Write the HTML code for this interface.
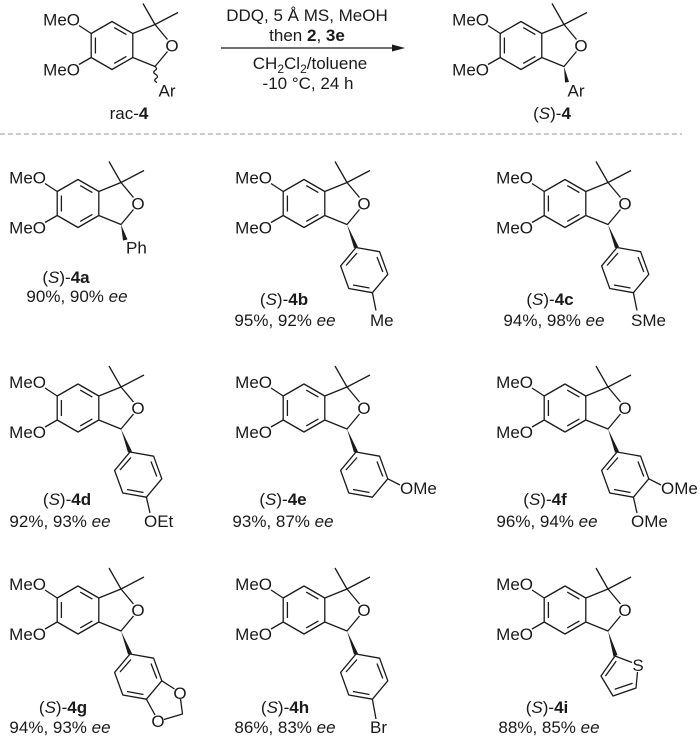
<!DOCTYPE html>
<html><head><meta charset="utf-8">
<style>
html,body{margin:0;padding:0;background:#fff;}
svg{display:block;}
text{font-family:"Liberation Sans",Arial,sans-serif;font-size:17px;fill:#1a1a1a;}
.b{fill:none;stroke:#1a1a1a;stroke-width:1.3;stroke-linejoin:round;}
.w{fill:#1a1a1a;stroke:none;}
.m{text-anchor:middle;}
.e{text-anchor:end;}
</style></head>
<body>
<svg width="700" height="737" viewBox="0 0 700 737" xmlns="http://www.w3.org/2000/svg">
<defs>
<path id="core" class="b" d="M-20.8,-12 L0,-24 L20.8,-12 L20.8,12 L0,24 L-20.8,12 Z M-16.6,-8 L-16.6,8 M2.2,-17.9 L14.4,-10.9 M2.2,17.9 L14.4,10.9 M20.8,-12 L43,-21 L55.5,-6 M20.8,12 L43,21 L55.5,6 M43,-21 L31,-42 M43,-21 L66,-33 M-20.8,-12 L-33,-20 M-20.8,12 L-33,19"/>
<path id="ar" class="b" d="M52,44 L75.6,48.2 L83.8,70.8 L68.4,89.2 L44.8,85 L36.6,62.4 Z M42,62 L53,49.5 M73,53.5 L78.8,68.5 M65.5,84.5 L49,81.5"/>
<polygon id="wd" class="w" points="43,21 50,44.5 54,43.5"/>
</defs>

<g transform="translate(112,45.5)">
<use href="#core"/>
<text x="-32" y="-20" class="e">MeO</text><text x="-32" y="30" class="e">MeO</text><text x="60" y="6" class="m">O</text>
<path class="b" d="M43,21 q3,2 0,4 q-3,2 1,4 q3,2 0,4 q-3,2 1,4"/>
<text x="55" y="51" class="m">Ar</text>
</g>
<text x="129" y="119" class="m">rac-<tspan font-weight="bold">4</tspan></text>

<text x="307" y="21" class="m">DDQ, 5 Å MS, MeOH</text>
<text x="307" y="41" class="m">then <tspan font-weight="bold">2</tspan>, <tspan font-weight="bold">3e</tspan></text>
<line x1="221" y1="48" x2="394" y2="48" stroke="#1a1a1a" stroke-width="1.3"/>
<polygon points="392,44.5 405,48 392,51.5" fill="#1a1a1a"/>
<text x="310" y="69" class="m">CH<tspan font-size="12" dy="4">2</tspan><tspan dy="-4">Cl</tspan><tspan font-size="12" dy="4">2</tspan><tspan dy="-4">/toluene</tspan></text>
<text x="308" y="89" class="m">-10 °C, 24 h</text>

<g transform="translate(521,45.5)">
<use href="#core"/>
<text x="-32" y="-20" class="e">MeO</text><text x="-32" y="30" class="e">MeO</text><text x="60" y="6" class="m">O</text>
<polygon class="w" points="43,21 44,37 48,36.5"/>
<text x="55" y="51" class="m">Ar</text>
</g>
<text x="552" y="119" class="m">(<tspan font-style="italic">S</tspan>)-<tspan font-weight="bold">4</tspan></text>

<line x1="0" y1="134" x2="682" y2="134" stroke="#999" stroke-width="1" stroke-dasharray="5,3"/>

<g transform="translate(78,203.5)">
<use href="#core"/>
<text x="-32" y="-20" class="e">MeO</text><text x="-32" y="30" class="e">MeO</text><text x="60" y="6" class="m">O</text>
<polygon class="w" points="43,21 45,37 49.5,36"/>
<text x="48" y="50">Ph</text>
</g>
<text x="66" y="283" class="m">(<tspan font-style="italic">S</tspan>)-<tspan font-weight="bold">4a</tspan></text>
<text x="77" y="302" class="m">90%, 90% <tspan font-style="italic">ee</tspan></text>

<g transform="translate(304,203.5)">
<use href="#core"/><use href="#ar"/><use href="#wd"/>
<text x="-32" y="-20" class="e">MeO</text><text x="-32" y="30" class="e">MeO</text><text x="60" y="6" class="m">O</text>
<path class="b" d="M68.4,89.2 L72,107"/>
<text x="66" y="122.5">Me</text>
</g>
<text x="284" y="305" class="m">(<tspan font-style="italic">S</tspan>)-<tspan font-weight="bold">4b</tspan></text>
<text x="285" y="326" class="m">95%, 92% <tspan font-style="italic">ee</tspan></text>

<g transform="translate(565,203.5)">
<use href="#core"/><use href="#ar"/><use href="#wd"/>
<text x="-32" y="-20" class="e">MeO</text><text x="-32" y="30" class="e">MeO</text><text x="60" y="6" class="m">O</text>
<path class="b" d="M68.4,89.2 L72,107"/>
<text x="66" y="122.5">SMe</text>
</g>
<text x="550" y="305" class="m">(<tspan font-style="italic">S</tspan>)-<tspan font-weight="bold">4c</tspan></text>
<text x="554" y="326" class="m">94%, 98% <tspan font-style="italic">ee</tspan></text>

<g transform="translate(78,408)">
<use href="#core"/><use href="#ar"/><use href="#wd"/>
<text x="-32" y="-20" class="e">MeO</text><text x="-32" y="30" class="e">MeO</text><text x="60" y="6" class="m">O</text>
<path class="b" d="M68.4,89.2 L72,105"/>
<text x="66" y="119">OEt</text>
</g>
<text x="67" y="505" class="m">(<tspan font-style="italic">S</tspan>)-<tspan font-weight="bold">4d</tspan></text>
<text x="60" y="527" class="m">92%, 93% <tspan font-style="italic">ee</tspan></text>

<g transform="translate(304,408)">
<use href="#core"/><use href="#ar"/><use href="#wd"/>
<text x="-32" y="-20" class="e">MeO</text><text x="-32" y="30" class="e">MeO</text><text x="60" y="6" class="m">O</text>
<path class="b" d="M83.8,70.8 L96,77"/>
<text x="96" y="86">OMe</text>
</g>
<text x="283" y="505" class="m">(<tspan font-style="italic">S</tspan>)-<tspan font-weight="bold">4e</tspan></text>
<text x="283" y="527" class="m">93%, 87% <tspan font-style="italic">ee</tspan></text>

<g transform="translate(565,408)">
<use href="#core"/><use href="#ar"/><use href="#wd"/>
<text x="-32" y="-20" class="e">MeO</text><text x="-32" y="30" class="e">MeO</text><text x="60" y="6" class="m">O</text>
<path class="b" d="M83.8,70.8 L96,77 M68.4,89.2 L72,105"/>
<text x="96" y="86">OMe</text>
<text x="66" y="119">OMe</text>
</g>
<text x="545" y="505" class="m">(<tspan font-style="italic">S</tspan>)-<tspan font-weight="bold">4f</tspan></text>
<text x="547" y="527" class="m">96%, 94% <tspan font-style="italic">ee</tspan></text>

<g transform="translate(78,610)">
<use href="#core"/><use href="#ar"/><use href="#wd"/>
<text x="-32" y="-20" class="e">MeO</text><text x="-32" y="30" class="e">MeO</text><text x="60" y="6" class="m">O</text>
<path class="b" d="M83.8,70.8 L96.5,79 M102.5,89 L104.5,104 L86,109.5 M68.4,89.2 L77,105"/>
<text x="102" y="89" class="m">O</text>
<text x="80" y="117" class="m">O</text>
</g>
<text x="63" y="713" class="m">(<tspan font-style="italic">S</tspan>)-<tspan font-weight="bold">4g</tspan></text>
<text x="60" y="733" class="m">94%, 93% <tspan font-style="italic">ee</tspan></text>

<g transform="translate(304,610)">
<use href="#core"/><use href="#ar"/><use href="#wd"/>
<text x="-32" y="-20" class="e">MeO</text><text x="-32" y="30" class="e">MeO</text><text x="60" y="6" class="m">O</text>
<path class="b" d="M68.4,89.2 L72,109"/>
<text x="66" y="123">Br</text>
</g>
<text x="285" y="713" class="m">(<tspan font-style="italic">S</tspan>)-<tspan font-weight="bold">4h</tspan></text>
<text x="285" y="733" class="m">86%, 83% <tspan font-style="italic">ee</tspan></text>

<g transform="translate(565,610)">
<use href="#core"/>
<text x="-32" y="-20" class="e">MeO</text><text x="-32" y="30" class="e">MeO</text><text x="60" y="6" class="m">O</text>
<polygon class="w" points="43,21 48.5,46.5 52.5,45"/>
<path class="b" d="M50,46 L67,52.5 M72.5,62 L71,78 L48,86 L36,66 L50,46 M51.2,51.1 L40.4,66.1 M49.7,79.3 L67.6,73.2"/>
<text x="73" y="61" class="m">S</text>
</g>
<text x="547" y="713" class="m">(<tspan font-style="italic">S</tspan>)-<tspan font-weight="bold">4i</tspan></text>
<text x="549" y="733" class="m">88%, 85% <tspan font-style="italic">ee</tspan></text>
</svg>
</body></html>
